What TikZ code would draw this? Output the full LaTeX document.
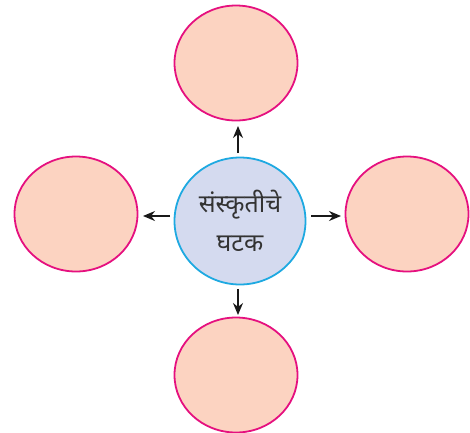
\documentclass[tikz,border=0pt]{standalone}
\usepackage{fontspec}
\newfontfamily\devfont[Script=Devanagari]{Noto Sans}
\usetikzlibrary{arrows.meta,shapes.geometric}
\definecolor{peach}{HTML}{FCD3C1}
\definecolor{magentaedge}{HTML}{E5107F}
\definecolor{bluefill}{HTML}{D4DAEF}
\definecolor{cyanedge}{HTML}{1EA9E1}
\definecolor{textgray}{HTML}{333333}
\begin{document}
\begin{tikzpicture}[x=1pt,y=-1pt,
  outer/.style={ellipse,draw=magentaedge,fill=peach,line width=1.8pt,minimum width=123pt,minimum height=115pt,inner sep=0pt},
  centre/.style={ellipse,draw=cyanedge,fill=bluefill,line width=1.8pt,minimum width=131pt,minimum height=127pt,inner sep=0pt,align=center,text=textgray,font=\devfont\fontsize{25}{39}\selectfont},
  conn/.style={-{Stealth[length=12pt,width=10pt]},line width=1.4pt,draw=black!90}]
\useasboundingbox (0,0) rectangle (470,432);
\node[centre] (c) at (240,221) {संस्कृतीचे\\घटक};
\node[outer] (t) at (236,63) {};
\node[outer] (l) at (76,214) {};
\node[outer] (r) at (407,214) {};
\node[outer] (b) at (236,375) {};
\coordinate (ts) at (238,153); \coordinate (te) at (238,126);
\coordinate (ls) at (170,216); \coordinate (le) at (143,216);
\coordinate (rs) at (311,216); \coordinate (re) at (341,216);
\coordinate (bs) at (238,289); \coordinate (be) at (238,315);
\draw[conn] (ts) -- (te);
\draw[conn] (ls) -- (le);
\draw[conn] (rs) -- (re);
\draw[conn] (bs) -- (be);
\end{tikzpicture}
\end{document}
